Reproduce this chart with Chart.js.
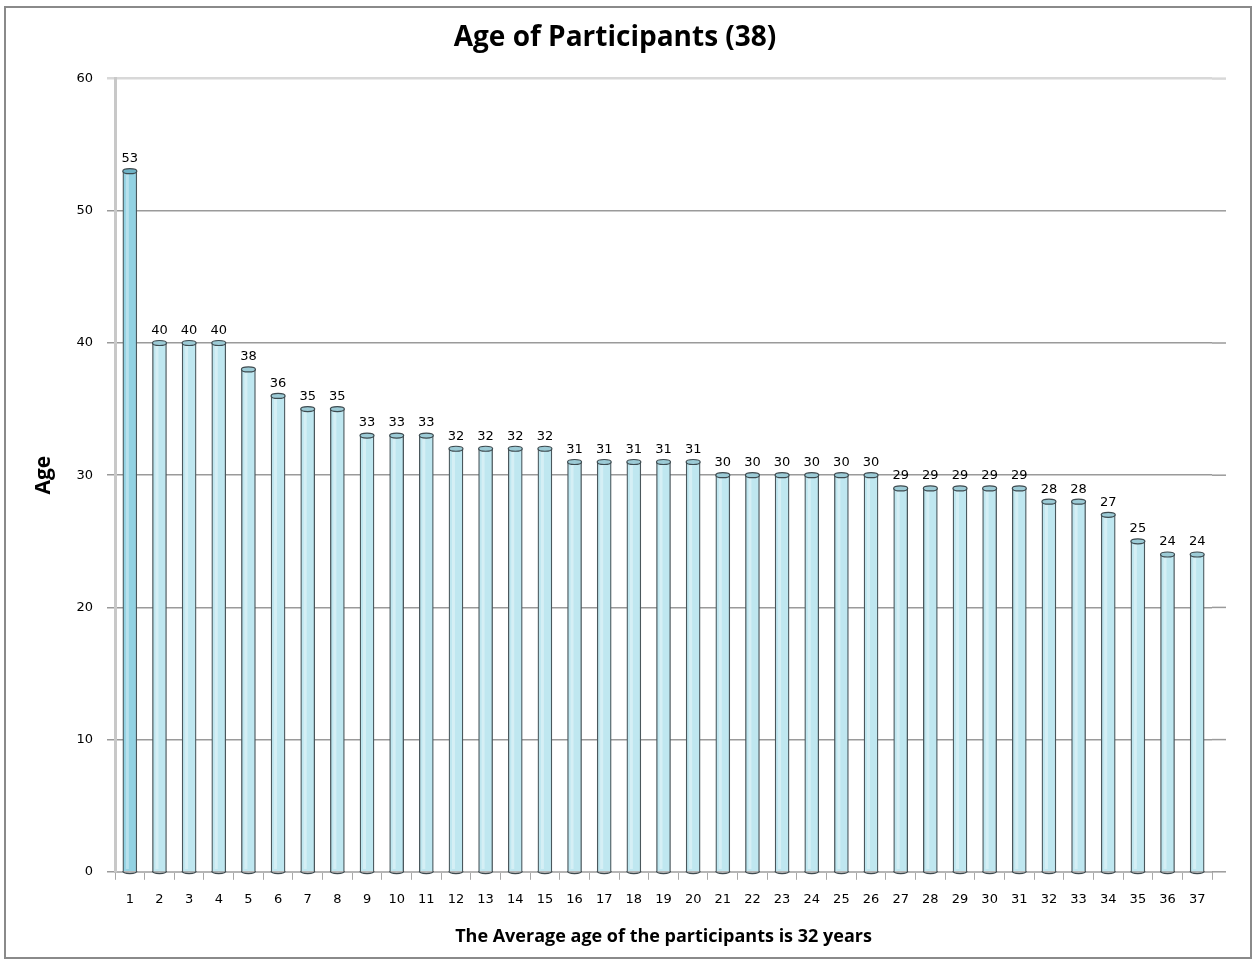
<!DOCTYPE html>
<html>
<head>
<meta charset="utf-8">
<script src="https://cdn.jsdelivr.net/npm/chart.js@4.4.1/dist/chart.umd.min.js"></script>
<style>
  html, body { margin: 0; padding: 0; background: #fff; }
  #wrap { position: relative; width: 1256px; height: 960px; }
</style>
</head>
<body>
<div id="wrap"><canvas id="ages" width="1256" height="960"></canvas></div>
<script>
const participants = [
  '1', '2', '3', '4', '5', '6', '7', '8', '9', '10',
  '11', '12', '13', '14', '15', '16', '17', '18', '19', '20',
  '21', '22', '23', '24', '25', '26', '27', '28', '29', '30',
  '31', '32', '33', '34', '35', '36', '37'
]
const ages = [
  53, 40, 40, 40, 38, 36, 35, 35, 33, 33,
  33, 32, 32, 32, 32, 31, 31, 31, 31, 31,
  30, 30, 30, 30, 30, 30, 29, 29, 29, 29,
  29, 28, 28, 27, 25, 24, 24
]
const ageTicks = [0, 10, 20, 30, 40, 50, 60]

// frame round the whole picture
const frame = {
  id: 'frame',
  beforeDraw (chart) {
    const c = chart.ctx
    c.save()
    c.fillStyle = '#fff'
    c.fillRect(0, 0, chart.width, chart.height)
    c.strokeStyle = '#8a8a8a'
    c.lineWidth = 2
    c.strokeRect(5, 7, 1246, 951)
    c.restore()
  },
  // the back wall grid runs a little past the last bar
  beforeDatasetsDraw (chart) {
    const c = chart.ctx
    const y = chart.scales.y
    const right = chart.chartArea.right
    c.save()
    ageTicks.forEach(v => {
      const py = y.getPixelForValue(v)
      c.strokeStyle = v === 60 ? '#d8d8d8' : '#9a9a9a'
      c.lineWidth = v === 60 ? 2.5 : 1.5
      c.beginPath()
      c.moveTo(right, py)
      c.lineTo(right + 14, py)
      c.stroke()
    })
    c.restore()
  }
}

// cylinder tops + value labels
const cylinders = {
  id: 'cylinders',
  afterDatasetsDraw (chart) {
    const c = chart.ctx
    const meta = chart.getDatasetMeta(0)
    c.save()
    meta.data.forEach((bar, i) => {
      const w = bar.width
      c.fillStyle = 'rgba(255,255,255,0.35)'
      c.fillRect(bar.x - w / 2 + 3, bar.y + 2, 3, bar.base - bar.y - 4)
      c.beginPath()
      c.ellipse(bar.x, bar.y, w / 2, 2.5, 0, 0, Math.PI * 2)
      c.fillStyle = i === 0 ? '#6fb3c6' : '#9ccbd6'
      c.fill()
      c.strokeStyle = '#3d4a4f'
      c.lineWidth = 1.2
      c.stroke()
      c.beginPath()
      c.ellipse(bar.x, bar.base, w / 2, 2.5, 0, 0, Math.PI)
      c.stroke()
      c.fillStyle = '#000'
      c.font = '13px "DejaVu Sans"'
      c.textAlign = 'center'
      c.textBaseline = 'bottom'
      c.fillText(ages[i], bar.x, bar.y - 6)
    })
    c.restore()
  }
}

new Chart(document.querySelector('#ages'), {
  type: 'bar',
  plugins: [frame, cylinders],
  data: {
    labels: participants,
    datasets: [
      {
        label: 'Age',
        data: ages,
        backgroundColor: ages.map((v, i) => i === 0 ? '#92d2e3' : '#bfe7f0'),
        borderColor: '#4a575c',
        borderWidth: 1.3,
        barThickness: 14
      }
    ]
  },
  options: {
    responsive: false,
    animation: false,
    layout: {
      padding: { left: 18, right: 44, top: 4, bottom: 12 }
    },
    scales: {
      x: {
        offset: true,
        border: { color: '#b5b5b5', width: 2 },
        grid: {
          offset: true,
          drawOnChartArea: false,
          color: '#a8a8a8',
          tickLength: 8
        },
        ticks: {
          color: '#000',
          font: { family: 'DejaVu Sans', size: 13 },
          maxRotation: 0,
          autoSkip: false,
          padding: 12
        },
        title: {
          display: true,
          text: 'The Average age of the participants is 32 years',
          color: '#000',
          font: { family: 'Open Sans', size: 18, weight: 'bold' },
          padding: { top: 7, bottom: 0 }
        }
      },
      y: {
        min: 0,
        max: 60,
        afterBuildTicks (scale) {
          scale.ticks = ageTicks.map(v => ({ value: v }))
        },
        afterFit (scale) {
          scale.width = 97
        },
        border: { color: '#c8c8c8', width: 3 },
        grid: {
          color: ctx => ctx.tick && ctx.tick.value === 60 ? '#d8d8d8' : '#9a9a9a',
          lineWidth: ctx => ctx.tick && ctx.tick.value === 60 ? 2.5 : 1.5,
          tickLength: 8
        },
        ticks: {
          color: '#000',
          font: { family: 'DejaVu Sans', size: 13 },
          padding: 14
        },
        title: {
          display: true,
          text: 'Age',
          color: '#000',
          font: { family: 'Open Sans', size: 21, weight: 'bold' },
          padding: { top: 13, bottom: 0 }
        }
      }
    },
    plugins: {
      legend: { display: false },
      tooltip: { enabled: false },
      title: {
        display: true,
        text: 'Age of Participants (38)',
        color: '#000',
        font: { family: 'Open Sans', size: 28, weight: 'bold' },
        padding: { top: 17, bottom: 24 }
      }
    }
  }
})
</script>
</body>
</html>
